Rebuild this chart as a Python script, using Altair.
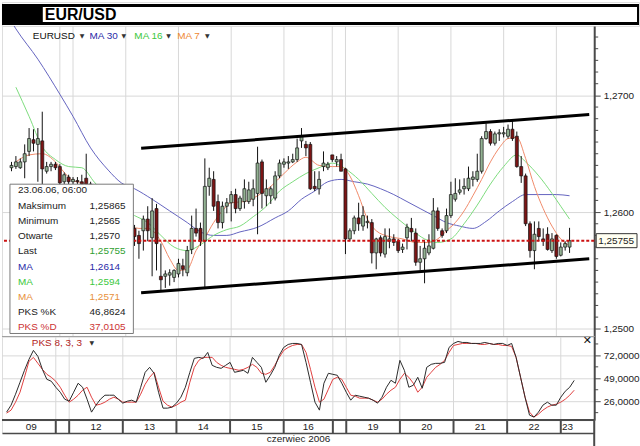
import altair as alt
import pandas as pd

FONT = "Liberation Sans"

# ---------------- data ----------------
# 2-hour candles, slot 0 = 09.06 00:00 ... slot 127 = 23.06 06:00
opens = [1.2638,1.2639,1.2638,1.2643,1.2652,1.2662,1.2658,1.2661,1.2635,1.2639,
 1.2641,1.2639,1.2626,1.2630,1.2626,1.2627,1.2626,1.2629,1.2624,1.2614,
 1.2605,1.2609,1.2597,1.2588,1.2594,1.2591,1.2584,1.2580,1.2586,1.2580,
 1.2584,1.2594,1.2578,1.2603,1.2545,1.2545,1.2546,1.2544,1.2547,1.2554,
 1.2548,1.2568,1.2586,1.2586,1.2575,1.2622,1.2628,1.2609,1.2591,1.2605,
 1.2608,1.2615,1.2603,1.2609,1.2609,1.2611,1.2616,1.2643,1.2614,1.2614,
 1.2612,1.2631,1.2641,1.2642,1.2643,1.2645,1.2661,1.2658,1.2658,1.2622,
 1.2620,1.2639,1.2638,1.2649,1.2643,1.2645,1.2637,1.2577,1.2584,1.2595,
 1.2588,1.2591,1.2591,1.2565,1.2578,1.2564,1.2575,1.2577,1.2575,1.2568,
 1.2578,1.2586,1.2582,1.2557,1.2560,1.2565,1.2569,1.2601,1.2584,1.2584,
 1.2597,1.2611,1.2617,1.2620,1.2620,1.2628,1.2628,1.2635,1.2663,1.2669,
 1.2659,1.2667,1.2667,1.2665,1.2671,1.2665,1.2639,1.2631,1.2590,1.2567,
 1.2586,1.2577,1.2581,1.2567,1.2580,1.2563,1.2570,1.2570]
closes = [1.2640,1.2643,1.2643,1.2650,1.2663,1.2659,1.2663,1.2637,1.2639,1.2641,
 1.2638,1.2625,1.2632,1.2626,1.2628,1.2626,1.2624,1.2624,1.2614,1.2605,
 1.2609,1.2597,1.2588,1.2594,1.2591,1.2584,1.2580,1.2586,1.2579,1.2573,
 1.2594,1.2584,1.2601,1.2573,1.2542,1.2547,1.2548,1.2550,1.2556,1.2551,
 1.2567,1.2586,1.2582,1.2575,1.2622,1.2629,1.2605,1.2591,1.2605,1.2608,
 1.2615,1.2603,1.2612,1.2620,1.2619,1.2620,1.2642,1.2616,1.2620,1.2620,
 1.2631,1.2642,1.2643,1.2643,1.2645,1.2655,1.2665,1.2655,1.2620,1.2620,
 1.2628,1.2642,1.2641,1.2645,1.2645,1.2635,1.2577,1.2584,1.2595,1.2590,
 1.2597,1.2592,1.2565,1.2577,1.2565,1.2579,1.2577,1.2574,1.2567,1.2570,
 1.2587,1.2583,1.2557,1.2560,1.2569,1.2571,1.2601,1.2586,1.2580,1.2597,
 1.2615,1.2616,1.2619,1.2622,1.2629,1.2630,1.2635,1.2663,1.2669,1.2659,
 1.2667,1.2668,1.2668,1.2671,1.2663,1.2639,1.2631,1.2590,1.2567,1.2581,
 1.2579,1.2575,1.2568,1.2577,1.2562,1.2570,1.2573,1.25755]
highs = [1.2643,1.2648,1.2646,1.2658,1.2672,1.2671,1.2672,1.2686,1.2643,1.2643,
 1.2643,1.2641,1.2634,1.2632,1.2630,1.2630,1.2632,1.2650,1.2626,1.2618,
 1.2613,1.2611,1.2599,1.2597,1.2597,1.2594,1.2587,1.2589,1.2589,1.2584,
 1.2597,1.2605,1.2612,1.2607,1.2573,1.2550,1.2551,1.2551,1.2560,1.2560,
 1.2571,1.2597,1.2603,1.2591,1.2646,1.2638,1.2635,1.2615,1.2609,1.2612,
 1.2618,1.2620,1.2614,1.2628,1.2626,1.2628,1.2656,1.2645,1.2628,1.2622,
 1.2635,1.2645,1.2646,1.2648,1.2650,1.2663,1.2672,1.2661,1.2660,1.2635,
 1.2635,1.2652,1.2643,1.2649,1.2648,1.2650,1.2638,1.2586,1.2597,1.2608,
 1.2605,1.2597,1.2594,1.2578,1.2580,1.2586,1.2586,1.2581,1.2577,1.2573,
 1.2590,1.2595,1.2586,1.2571,1.2575,1.2581,1.2612,1.2604,1.2586,1.2603,
 1.2626,1.2629,1.2628,1.2629,1.2639,1.2635,1.2650,1.2665,1.2676,1.2671,
 1.2669,1.2671,1.2673,1.2675,1.2678,1.2669,1.2648,1.2633,1.2592,1.2592,
 1.2592,1.2586,1.2587,1.2582,1.2581,1.2574,1.2575,1.25865]
lows = [1.2635,1.2637,1.2637,1.2629,1.2648,1.2652,1.2626,1.2624,1.2633,1.2635,
 1.2636,1.2623,1.2624,1.2624,1.2624,1.2624,1.2621,1.2622,1.2611,1.2601,
 1.2599,1.2592,1.2582,1.2586,1.2587,1.2579,1.2575,1.2574,1.2571,1.2560,
 1.2567,1.2575,1.2545,1.2550,1.2533,1.2535,1.2537,1.2540,1.2544,1.2545,
 1.2545,1.2564,1.2579,1.2571,1.2534,1.2614,1.2601,1.2586,1.2586,1.2599,
 1.2592,1.2599,1.2601,1.2603,1.2607,1.2605,1.2581,1.2603,1.2605,1.2607,
 1.2610,1.2629,1.2638,1.2637,1.2642,1.2643,1.2655,1.2648,1.2619,1.2618,
 1.2615,1.2635,1.2636,1.2643,1.2639,1.2635,1.2564,1.2575,1.2581,1.2584,
 1.2584,1.2586,1.2556,1.2551,1.2562,1.2561,1.2569,1.2571,1.2565,1.2565,
 1.2568,1.2575,1.2554,1.2550,1.2539,1.2563,1.2568,1.2584,1.2578,1.2582,
 1.2595,1.2609,1.2615,1.2615,1.2618,1.2622,1.2626,1.2633,1.2662,1.2657,
 1.2657,1.2661,1.2664,1.2663,1.2661,1.2638,1.2625,1.2588,1.2561,1.2551,
 1.2575,1.2571,1.2567,1.2565,1.2560,1.2562,1.2567,1.2565]

ma30_slot = [0,1,6,11,14,18,22,25,28,32,36,40,43,46,49,52,56,60,63,66,69,72,75,78,81,84,87,90,93,96,99,102,105,108,111,114,117,120,124,127]
ma30 = [1.2763,1.2757,1.2731,1.2701,1.2682,1.2655,1.2636,1.2625,1.2620,1.2611,1.2601,1.2591,1.2583,1.2580,1.2580,1.2583,1.2587,1.2595,1.2601,1.2611,1.2618,1.2626,1.2628,1.2626,1.2624,1.2620,1.2615,1.2609,1.2603,1.2597,1.2591,1.2588,1.2586,1.2592,1.2601,1.2609,1.2615,1.2615,1.2615,1.2614]
ma16_slot = [1,4,7,10,13,16,19,22,25,28,31,34,37,40,43,46,49,52,55,58,61,64,67,70,73,76,79,82,85,88,91,94,97,100,103,106,109,112,115,117,120,123,125,127]
ma16 = [1.2707,1.2682,1.2656,1.2645,1.2639,1.2638,1.2625,1.2614,1.2603,1.2597,1.2591,1.2580,1.2570,1.2567,1.2572,1.2580,1.2585,1.2588,1.2596,1.2605,1.2618,1.2626,1.2633,1.2638,1.2642,1.2637,1.2628,1.2616,1.2604,1.2594,1.2585,1.2577,1.2574,1.2577,1.2590,1.2606,1.2624,1.2639,1.2649,1.2643,1.2631,1.2616,1.2605,1.2594]
ma7_slot = [1,4,7,10,12,14,17,20,23,26,29,31,34,36,38,40,42,44,46,48,50,53,56,59,62,65,67,70,73,75,77,79,81,83,86,89,92,95,97,99,101,103,105,107,109,111,113,115,117,119,121,123,125,127]
ma7 = [1.2643,1.2649,1.2650,1.2643,1.2634,1.2627,1.2624,1.2614,1.2601,1.2591,1.2586,1.2586,1.2575,1.2560,1.2550,1.2551,1.2567,1.2578,1.2591,1.2601,1.2608,1.2609,1.2614,1.2622,1.2633,1.2643,1.2647,1.2640,1.2639,1.2639,1.2631,1.2614,1.2594,1.2584,1.2579,1.2577,1.2574,1.2574,1.2577,1.2584,1.2591,1.2601,1.2614,1.2628,1.2643,1.2655,1.2663,1.2664,1.2646,1.2622,1.2603,1.2588,1.2577,1.2571]

stoch_k = [15,22,33,45,57,68,77,71,58,48,46,40,35,28,26,35,44,40,28,15,
 22,28,32,32,32,28,24,26,27,25,40,55,60,54,35,19,19,20,24,30,
 40,55,69,70,69,75,62,60,59,62,65,55,56,57,54,70,65,60,45,52,
 60,72,80,83,84,84,83,65,45,25,17,44,54,53,52,44,35,27,32,31,
 30,29,27,24,30,40,47,44,67,57,40,42,50,39,60,63,64,64,65,80,
 84,86,85,85,84,84,84,85,84,83,84,84,82,84,70,50,30,12,10,15,
 22,25,22,22,30,36,40,46.86]
stoch_d = [14,17,25,35,50,66,70,64,58,53,50,46,40,32,25,28,32,37,40,30,
 22,23,25,28,30,28,25,25,25,25,33,43,50,55,40,26,22,20,22,25,
 27,45,60,67,70,70,70,65,62,60,59,58,57,58,60,63,60,54,53,55,
 62,70,77,80,82,83,83,75,58,40,25,28,38,48,50,48,40,32,31,29,
 29,29,27,25,28,33,37,40,48,54,50,44,35,40,50,55,60,63,67,75,
 82,83,84,84,84,84,83,83,84,83,83,82,82,81,70,50,30,15,10,13,
 17,20,22,23,25,28,32,37.01]

channel_slot = [29.5, 131.48]
channel_upper = [1.26546, 1.26836]
channel_lower = [1.25309, 1.25600]
last_price = 1.25755
last_label = "1,25755"

day_bounds = [11, 14, 26, 38, 50, 62, 73, 76, 88, 100, 112, 124]
day_labels = ["09", "12", "13", "14", "15", "16", "19", "20", "21", "22", "23"]
day_label_slot = [5.5, 20, 32, 44, 56, 67.5, 82, 94, 106, 118, 125.5]

info_header = "23.06.06, 06:00"
info_labels = ["Maksimum", "Minimum", "Otwarte", "Last", "MA", "MA", "MA", "PKS %K", "PKS %D"]
info_values = ["1,25865", "1,2565", "1,2570", "1,25755", "1,2614", "1,2594", "1,2571", "46,8624", "37,0105"]

# ---------------- styles ----------------
C_MA30 = "#6464c0"
C_MA16 = "#7ddc7d"
C_MA7 = "#f08a6a"
UP = "#93b293"
DOWN = "#7d1515"
AX = "#4a4a4a"
GRID = "#d8d8d8"
label_colors = ["#222", "#222", "#222", "#222", "#2a2aa8", "#3cc83c", "#e8903a", "#222", "#cc3333"]
value_colors = ["#222", "#222", "#222", "#2f9e2f", "#2a2aa8", "#3cc83c", "#e8903a", "#222", "#cc3333"]

W = 595
H_MAIN = 312
H_STOCH = 84
H_BAND = 13

xs = alt.Scale(domain=[-1.033, 131.48], nice=False, zero=False)
ys = alt.Scale(domain=[1.24934, 1.27595], nice=False, zero=False)
ss = alt.Scale(domain=[7, 91], nice=False, zero=False)

dummy = pd.DataFrame({"a": [0]})


def txt(s, x, y, color="#222", size=10, weight="normal", align="left", font=FONT):
    return alt.Chart(dummy).mark_text(
        text=s, align=align, baseline="middle", fontSize=size, fontWeight=weight,
        color=color, font=font
    ).encode(x=alt.value(x), y=alt.value(y))


def X(f, axis=None):
    return alt.X(f, type="quantitative", scale=xs, axis=axis)


price_axis = alt.Axis(
    orient="right", values=[1.25, 1.26, 1.27],
    labelExpr="replace(format(datum.value, '.4f'), '.', ',')",
    title=None, grid=True, gridColor=GRID, domain=True, domainColor=AX, domainWidth=2,
    ticks=True, tickColor=AX, tickSize=6, labelFont=FONT, labelFontSize=10,
    labelColor="#222", labelPadding=3)


def YP(f):
    return alt.Y(f, type="quantitative", scale=ys, axis=price_axis)


# ---------------- title bar ----------------
title_chart = alt.layer(
    alt.Chart(dummy).mark_rect(color="black").encode(
        x=alt.value(0), x2=alt.value(640), y=alt.value(2), y2=alt.value(23)),
    alt.Chart(dummy).mark_rect(color="white").encode(
        x=alt.value(41), x2=alt.value(638), y=alt.value(5), y2=alt.value(20)),
    txt("EUR/USD", 43, 13, color="black", size=16, weight="bold"),
).properties(width=640, height=24)

# ---------------- main price panel ----------------
candles = pd.DataFrame({"slot": list(range(len(opens))), "open": opens, "high": highs,
                        "low": lows, "close": closes})
candles["dir"] = ["up" if c >= o else "down" for o, c in zip(opens, closes)]

bounds_df = pd.DataFrame({"slot": day_bounds})
vgrid = alt.Chart(bounds_df).mark_rule(color=GRID, strokeWidth=1).encode(x=X("slot"))

wicks = alt.Chart(candles).mark_rule(color="#111", strokeWidth=1).encode(
    x=X("slot"), y=YP("low"), y2="high")
bodies = alt.Chart(candles).mark_bar(size=3, stroke="#111", strokeWidth=0.7).encode(
    x=X("slot"), y=YP("open"), y2="close",
    fill=alt.Fill("dir:N", scale=alt.Scale(domain=["up", "down"], range=[UP, DOWN]), legend=None))


def ma_layer(sl, vals, color):
    df = pd.DataFrame({"slot": sl, "v": vals})
    return alt.Chart(df).mark_line(color=color, strokeWidth=1, clip=True,
                                   interpolate="monotone").encode(x=X("slot"), y=YP("v"))


ma_lines = [ma_layer(ma30_slot, ma30, C_MA30), ma_layer(ma16_slot, ma16, C_MA16),
            ma_layer(ma7_slot, ma7, C_MA7)]

chan_df = pd.DataFrame({"slot": channel_slot, "up": channel_upper, "lo": channel_lower})
chan_up = alt.Chart(chan_df).mark_line(color="black", strokeWidth=3).encode(x=X("slot"), y=YP("up"))
chan_lo = alt.Chart(chan_df).mark_line(color="black", strokeWidth=3).encode(x=X("slot"), y=YP("lo"))

last_df = pd.DataFrame({"p": [last_price], "label": [last_label]})
last_line = alt.Chart(last_df).mark_rule(color="#cc1111", strokeWidth=2, strokeDash=[3, 2]).encode(
    y=YP("p"))
last_box = alt.Chart(last_df).transform_calculate(
    hi="datum.p + 0.0006", lo="datum.p - 0.0006"
).mark_rect(fill="#fffff2", stroke="#333", strokeWidth=1).encode(
    x=alt.value(597), x2=alt.value(638), y=YP("hi:Q"), y2="lo:Q")
last_txt = alt.Chart(last_df).mark_text(align="left", baseline="middle", fontSize=10,
                                        font=FONT, color="#222").encode(
    x=alt.value(599), y=YP("p"), text="label:N")

minor_p = pd.DataFrame({"t": [1.2500 + 0.001 * i for i in range(26) if i % 10 != 0]})
minor_ticks = alt.Chart(minor_p).mark_rule(color=AX, strokeWidth=1).encode(
    x=alt.value(595), x2=alt.value(599), y=YP("t"))

legend_items = [
    txt("EURUSD", 31, 10, color="#111"),
    txt("\u25bc", 78, 10, color="#333", size=6, font="DejaVu Sans"),
    txt("MA 30", 88, 10, color="#2a2aa8"),
    txt("\u25bc", 120, 10, color="#333", size=6, font="DejaVu Sans"),
    txt("MA 16", 133, 10, color="#3cc83c"),
    txt("\u25bc", 165, 10, color="#333", size=6, font="DejaVu Sans"),
    txt("MA 7", 176, 10, color="#ee8833"),
    txt("\u25bc", 204, 10, color="#333", size=6, font="DejaVu Sans"),
]

box_top, box_bot = 159, 309
info = [alt.Chart(dummy).mark_rect(fill="white", stroke="#7a7a7a", strokeWidth=1).encode(
    x=alt.value(8), x2=alt.value(132), y=alt.value(box_top), y2=alt.value(box_bot)),
    txt(info_header, 16, 165, color="#222")]
for i, (lab, val) in enumerate(zip(info_labels, info_values)):
    yy = 181 + i * 15.2
    info.append(txt(lab, 16, yy, color=label_colors[i]))
    info.append(txt(val, 88, yy, color=value_colors[i]))

main = alt.layer(
    vgrid, *ma_lines, wicks, bodies, chan_up, chan_lo, last_line, minor_ticks,
    last_box, last_txt, *legend_items, *info
).properties(width=W, height=H_MAIN)

# ---------------- stochastic panel ----------------
stoch_axis = alt.Axis(
    orient="right", values=[26, 49, 72],
    labelExpr="replace(format(datum.value, '.4f'), '.', ',')",
    title=None, grid=True, gridColor=GRID, domain=True, domainColor=AX, domainWidth=2,
    ticks=True, tickColor=AX, tickSize=6, labelFont=FONT, labelFontSize=10,
    labelColor="#222", labelPadding=3)


def YS(f):
    return alt.Y(f, type="quantitative", scale=ss, axis=stoch_axis)


stoch_df = pd.DataFrame({"slot": list(range(len(stoch_k))), "k": stoch_k, "d": stoch_d})
k_line = alt.Chart(stoch_df).mark_line(color="#2a2a2a", strokeWidth=1).encode(x=X("slot"), y=YS("k"))
d_line = alt.Chart(stoch_df).mark_line(color="#e04040", strokeWidth=1).encode(x=X("slot"), y=YS("d"))
s_minor = alt.Chart(pd.DataFrame({"t": [14.5, 37.5, 60.5, 83.5]})).mark_rule(color=AX).encode(
    x=alt.value(595), x2=alt.value(599), y=YS("t"))
sep = alt.Chart(dummy).mark_rule(color="#a0a0a0", strokeWidth=1).encode(
    x=alt.value(0), x2=alt.value(595), y=alt.value(0))

stoch = alt.layer(
    vgrid, sep, d_line, k_line, s_minor,
    txt("PKS 8, 3, 3", 30, 7, color="#b22222"),
    txt("\u25bc", 88, 7, color="#333", size=6, font="DejaVu Sans"),
    txt("\u2715", 588, 5, color="#111", size=11, weight="bold", font="DejaVu Sans", align="center"),
).properties(width=W, height=H_STOCH)

# ---------------- date band ----------------
band_axis = alt.Axis(orient="bottom", labels=False, ticks=False, grid=False, domain=True,
                     domainColor=AX, domainWidth=1.5, title="czerwiec 2006", titleFont=FONT,
                     titleFontSize=10, titleFontWeight="normal", titleColor="#222", titlePadding=1)
band_div = alt.Chart(bounds_df).mark_rule(color=AX, strokeWidth=2).encode(
    x=X("slot", band_axis), y=alt.value(0), y2=alt.value(H_BAND))
band_top = alt.Chart(dummy).mark_rule(color=AX, strokeWidth=2).encode(
    x=alt.value(0), x2=alt.value(595), y=alt.value(0))
lab_df = pd.DataFrame({"slot": day_label_slot, "label": day_labels})
band_lab = alt.Chart(lab_df).mark_text(fontSize=10, font=FONT, color="#222", baseline="middle").encode(
    x=X("slot", band_axis), y=alt.value(7), text="label:N")
axis_cont = alt.Chart(dummy).mark_rule(color=AX, strokeWidth=2).encode(
    x=alt.value(595), y=alt.value(0), y2=alt.value(30))

band = alt.layer(band_top, band_div, band_lab, axis_cont).properties(width=W, height=H_BAND)

chart = alt.vconcat(title_chart, main, stoch, band, spacing=0, bounds="flush",
                    padding=0, background="white").configure_view(stroke=None).configure(font=FONT)

chart.save("out.html", embed_options={"renderer": "svg", "actions": False})
